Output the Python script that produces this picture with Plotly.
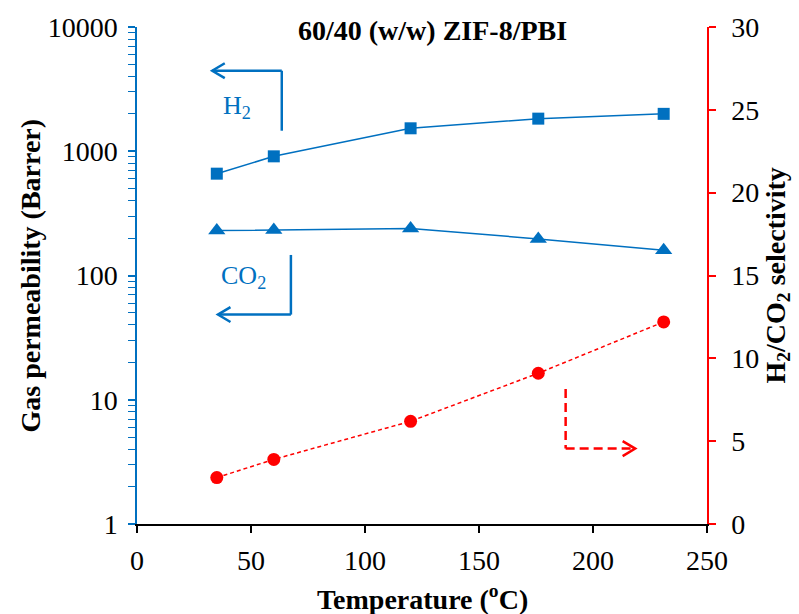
import plotly.graph_objects as go

# Measured data for the 60/40 (w/w) ZIF-8/PBI membrane
temperature = [35, 60, 120, 176, 231]          # degC
h2_permeability = [660, 910, 1530, 1830, 2000]  # Barrer
co2_permeability = [230, 232, 239, 197, 160]    # Barrer
h2_co2_selectivity = [2.8, 3.9, 6.2, 9.1, 12.2]

x_ticks = [0, 50, 100, 150, 200, 250]
perm_ticks = [1, 10, 100, 1000, 10000]
perm_tick_text = ["1", "10", "100", "1000", "10000"]
sel_ticks = [0, 5, 10, 15, 20, 25, 30]

BLUE = "#0070C0"
RED = "#FF0000"
FONT = "Liberation Serif"
TICK_SIZE = 28
TITLE_SIZE = 28

# minor ticks 2..9 within each decade of the log axis
perm_minor = [m * 10 ** d for d in range(4) for m in range(2, 10)]

fig = go.Figure()

fig.add_trace(go.Scatter(
    x=temperature, y=h2_permeability, mode="lines+markers", name="H2",
    line=dict(color=BLUE, width=1.5),
    marker=dict(symbol="square", size=12, color=BLUE),
))
fig.add_trace(go.Scatter(
    x=temperature, y=co2_permeability, mode="lines+markers", name="CO2",
    line=dict(color=BLUE, width=1.5),
    marker=dict(symbol="triangle-up", size=15, color=BLUE),
))
fig.add_trace(go.Scatter(
    x=temperature, y=h2_co2_selectivity, mode="lines+markers", name="H2/CO2",
    yaxis="y2",
    line=dict(color=RED, width=1.5, dash="4px,3px"),
    marker=dict(symbol="circle", size=13, color=RED),
))


def elbow_arrow(x0, y0, xc, yc, x1, y1, color, dash="solid", width=2.5):
    """Elbow pointer from (x0,y0) to corner (xc,yc) then to the open head at (x1,y1),
    drawn against the x / y2 axes."""
    shapes = [
        dict(type="line", xref="x", yref="y2", x0=x0, y0=y0, x1=xc, y1=yc,
             line=dict(color=color, width=width, dash=dash)),
        dict(type="line", xref="x", yref="y2", x0=xc, y0=yc, x1=x1, y1=y1,
             line=dict(color=color, width=width, dash=dash)),
    ]
    sgn = 1 if x1 < xc else -1
    dx, dy = 5.5 * sgn, 0.45
    shapes.append(dict(
        type="path", xref="x", yref="y2",
        path=f"M {x1 + dx},{y1 + dy} L {x1},{y1} L {x1 + dx},{y1 - dy}",
        line=dict(color=color, width=width),
    ))
    return shapes


shapes = []
shapes += elbow_arrow(63.5, 23.74, 63.5, 27.36, 33.0, 27.36, BLUE)
shapes += elbow_arrow(67.5, 16.24, 67.5, 12.64, 35.5, 12.64, BLUE)
shapes += elbow_arrow(188.0, 8.15, 188.0, 4.55, 218.5, 4.55, RED, dash="9px,5px")

annotations = [
    dict(text="<b>60/40 (w/w) ZIF-8/PBI</b>", xref="paper", yref="paper",
         x=0.519, y=1, xanchor="center", yanchor="middle", yshift=-3, showarrow=False,
         font=dict(family=FONT, size=TITLE_SIZE, color="black")),
    dict(text="H<sub>2</sub>", xref="x", yref="y2", x=44, y=25.2,
         showarrow=False, font=dict(family=FONT, size=26, color=BLUE)),
    dict(text="CO<sub>2</sub>", xref="x", yref="y2", x=46.7, y=14.9,
         showarrow=False, font=dict(family=FONT, size=26, color=BLUE)),
    dict(text="<b>Gas permeability (Barrer)</b>", xref="paper", yref="paper",
         x=0, y=0.5, xanchor="center", yanchor="middle", xshift=-107,
         textangle=-90, showarrow=False,
         font=dict(family=FONT, size=TITLE_SIZE, color="black")),
    dict(text="<b>H<sub>2</sub>/CO<sub>2</sub> selectivity</b>", xref="paper", yref="paper",
         x=1, y=0.5, xanchor="center", yanchor="middle", xshift=70,
         textangle=-90, showarrow=False,
         font=dict(family=FONT, size=TITLE_SIZE, color="black")),
    dict(text="<b>Temperature (<sup>o</sup>C)</b>", xref="paper", yref="paper",
         x=0.5, y=0, xanchor="center", yanchor="middle", yshift=-73, showarrow=False,
         font=dict(family=FONT, size=TITLE_SIZE, color="black")),
]

fig.update_layout(
    width=799, height=614,
    margin=dict(l=137, r=92, t=27, b=90),
    paper_bgcolor="white", plot_bgcolor="white",
    showlegend=False,
    font=dict(family=FONT, size=TICK_SIZE, color="black"),
    xaxis=dict(
        range=[0, 250], tickvals=x_ticks, showgrid=False, zeroline=False,
        showline=True, linecolor="black", linewidth=1.5,
        ticks="outside", ticklen=7, tickwidth=1.5, tickcolor="black",
        ticklabelstandoff=4,
        tickfont=dict(family=FONT, size=TICK_SIZE, color="black"),
    ),
    yaxis=dict(
        type="log", range=[0, 4], tickvals=perm_ticks, ticktext=perm_tick_text,
        showgrid=False, zeroline=False,
        showline=True, linecolor=BLUE, linewidth=1.5,
        ticks="outside", ticklen=7, tickwidth=1.5, tickcolor=BLUE,
        ticklabelstandoff=5,
        tickfont=dict(family=FONT, size=TICK_SIZE, color="black"),
        minor=dict(tickmode="array", tickvals=perm_minor, ticks="outside",
                   ticklen=7, tickwidth=1.2, tickcolor=BLUE, showgrid=False),
    ),
    yaxis2=dict(
        overlaying="y", side="right", range=[0, 30], tickvals=sel_ticks,
        showgrid=False, zeroline=False,
        showline=True, linecolor=RED, linewidth=1.5,
        ticks="outside", ticklen=7, tickwidth=1.5, tickcolor=RED,
        ticklabelstandoff=10,
        tickfont=dict(family=FONT, size=TICK_SIZE, color="black"),
    ),
    shapes=shapes,
    annotations=annotations,
)

fig.write_html("out.html")
